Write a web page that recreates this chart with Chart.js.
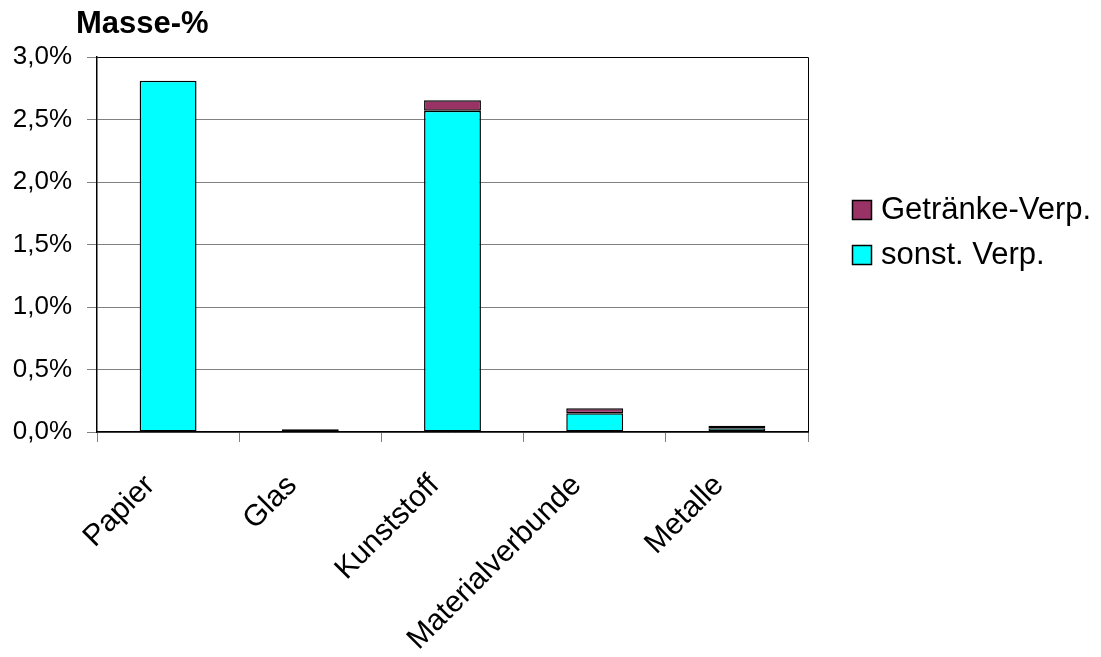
<!DOCTYPE html>
<html>
<head>
<meta charset="utf-8">
<script src="https://cdn.jsdelivr.net/npm/chart.js@4.4.1/dist/chart.umd.min.js"></script>
<style>
  html, body { margin: 0; padding: 0; background: #fff; }
  #wrap { width: 1101px; height: 657px; position: relative; }
</style>
</head>
<body>
<div id="wrap"><canvas id="chart"></canvas></div>
<script>
// Anteile in Masse-% je Materialgruppe
const categories = ['Papier', 'Glas', 'Kunststoff', 'Materialverbunde', 'Metalle'];
const sonstVerp = [2.81, null, 2.57, 0.15, 0.03];
const getraenkeVerp = [null, 0.022, 0.085, 0.04, 0.02];
const yTicks = [0, 0.5, 1.0, 1.5, 2.0, 2.5, 3.0];

const FONT = '"Liberation Sans", Arial, sans-serif';

// Rahmen um die Zeichenfläche, Titel und Legende
const frame = {
  id: 'frame',
  beforeDatasetsDraw(chart) {
    const { ctx, chartArea: a } = chart;
    ctx.save();
    ctx.strokeStyle = '#000';
    ctx.lineWidth = 1;
    ctx.beginPath();
    ctx.moveTo(Math.round(a.left) + 0.5, Math.round(a.top) + 0.5);
    ctx.lineTo(Math.round(a.right) + 0.5, Math.round(a.top) + 0.5);
    ctx.lineTo(Math.round(a.right) + 0.5, Math.round(a.bottom) + 0.5);
    ctx.stroke();
    ctx.restore();
  },
  afterDraw(chart) {
    const { ctx, chartArea: a } = chart;
    ctx.save();
    ctx.fillStyle = '#000';
    ctx.font = 'bold 31px ' + FONT;
    ctx.textBaseline = 'alphabetic';
    ctx.textAlign = 'left';
    ctx.fillText('Masse-%', a.left - 21, 33);

    // Legende: obere Serie zuerst
    const items = chart.data.datasets.slice().reverse();
    ctx.font = '31px ' + FONT;
    ctx.textBaseline = 'middle';
    items.forEach((ds, i) => {
      const cy = 209.5 + i * 45;
      const x = a.right + 44;
      ctx.fillStyle = ds.backgroundColor;
      ctx.fillRect(x, cy - 9.5, 19, 19);
      ctx.strokeStyle = '#000';
      ctx.lineWidth = 1.5;
      ctx.strokeRect(x + 0.5, cy - 9, 19, 19);
      ctx.fillStyle = '#000';
      ctx.fillText(ds.label, x + 29, cy + 1);
    });
    ctx.restore();
  }
};

new Chart(document.getElementById('chart'), {
  type: 'bar',
  data: {
    labels: categories,
    datasets: [
      {
        label: 'sonst. Verp.',
        data: sonstVerp,
        backgroundColor: '#00FFFF',
        borderColor: '#000',
        borderWidth: 1.5,
        borderSkipped: false,
        barPercentage: 0.4,
        categoryPercentage: 1
      },
      {
        label: 'Getränke-Verp.',
        data: getraenkeVerp,
        backgroundColor: '#993366',
        borderColor: '#000',
        borderWidth: 1.5,
        borderSkipped: false,
        barPercentage: 0.4,
        categoryPercentage: 1
      }
    ]
  },
  options: {
    responsive: true,
    maintainAspectRatio: false,
    animation: false,
    layout: { padding: { top: 57, right: 293, left: 0, bottom: 0 } },
    plugins: {
      legend: { display: false },
      tooltip: { enabled: false }
    },
    scales: {
      x: {
        stacked: true,
        afterFit: (scale) => { scale.height = 225; },
        grid: {
          offset: true,
          drawOnChartArea: false,
          color: '#808080',
          tickLength: 10
        },
        border: { color: '#000', width: 1.5 },
        ticks: {
          color: '#000',
          maxRotation: 45,
          minRotation: 45,
          padding: 26,
          labelOffset: -18,
          font: { family: FONT, size: 30 }
        }
      },
      y: {
        stacked: true,
        min: 0,
        max: 3,
        afterFit: (scale) => { scale.width = 97; },
        afterBuildTicks: (scale) => { scale.ticks = yTicks.map(v => ({ value: v })); },
        grid: {
          color: '#808080',
          tickLength: 10
        },
        border: { color: '#000', width: 1.5 },
        ticks: {
          color: '#000',
          padding: 15,
          font: { family: FONT, size: 26 },
          callback: (v) => v.toFixed(1).replace('.', ',') + '%'
        }
      }
    }
  },
  plugins: [frame]
});
</script>
</body>
</html>
